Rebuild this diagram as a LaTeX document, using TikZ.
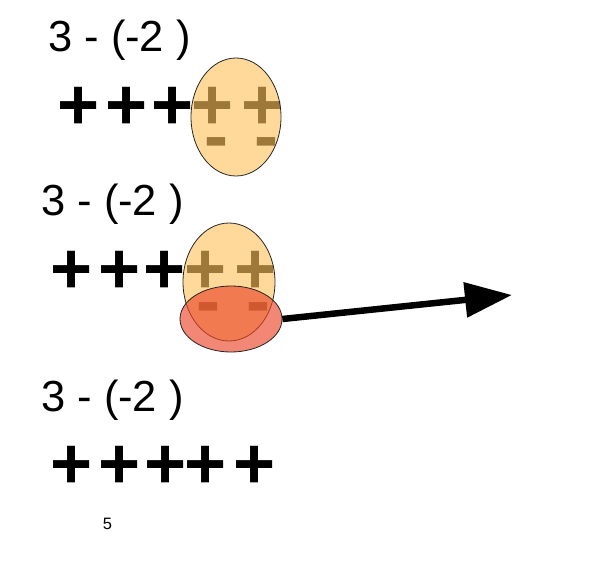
\documentclass[tikz,border=0pt]{standalone}
\usepackage{fontspec}
\setmainfont{Liberation Sans}
\usetikzlibrary{arrows.meta,shapes.geometric}
\definecolor{peach}{RGB}{255,194,92}
\definecolor{redc}{RGB}{235,72,42}
\begin{document}
\begin{tikzpicture}[x=1pt,y=-1pt,
  expr/.style={anchor=base west,inner sep=0pt,font=\fontsize{43.5}{43.5}\selectfont},
  pl/.style={anchor=base,inner sep=0pt,font=\fontsize{72}{72}\selectfont\bfseries},
  mn/.style={anchor=base,inner sep=0pt,font=\fontsize{72}{72}\selectfont\bfseries},
  egg/.style={ellipse,draw=black!85,line width=0.8pt,fill=peach,fill opacity=0.62,inner sep=0pt},
  redegg/.style={ellipse,draw=black!85,line width=0.8pt,fill=redc,fill opacity=0.65,inner sep=0pt}]
\useasboundingbox (0,0) rectangle (602,586);
\fill[white] (0,0) rectangle (602,586);
% row 1
\node[expr] (e1) at (48,52) {3 - (-2 )};
\node[pl] (p11) at (79,129) {+};
\node[pl] (p12) at (126.5,129) {+};
\node[pl] (p13) at (173,129) {+};
\node[pl] (p14) at (212.5,129) {+};
\node[pl] (p15) at (262.5,129) {+};
\node[mn] (m11) at (216,160) {-};
\node[mn] (m12) at (266.5,160) {-};
\node[egg,minimum width=90pt,minimum height=118pt] (g1) at (236,117) {};
% row 2
\node[expr] (e2) at (41,215) {3 - (-2 )};
\node[pl] (p21) at (71.5,293) {+};
\node[pl] (p22) at (119.5,293) {+};
\node[pl] (p23) at (165,293) {+};
\node[pl] (p24) at (206,293) {+};
\node[pl] (p25) at (255.5,293) {+};
\node[mn] (m21) at (208.5,325) {-};
\node[mn] (m22) at (258.5,325) {-};
\node[egg,minimum width=92pt,minimum height=118pt] (g2) at (229,282) {};
\node[redegg,minimum width=102pt,minimum height=66pt] (r2) at (231,319) {};
\coordinate (tip) at (512,295);
\draw[line width=6.5pt,-{Triangle[length=47pt,width=34pt]}] (r2.east) -- (tip);
% row 3
\node[expr] (e3) at (41,411) {3 - (-2 )};
\node[pl] (p31) at (71.5,488) {+};
\node[pl] (p32) at (119.5,488) {+};
\node[pl] (p33) at (165.5,488) {+};
\node[pl] (p34) at (206,488) {+};
\node[pl] (p35) at (255,488) {+};
\node[anchor=base,inner sep=0pt,font=\fontsize{16.5}{16.5}\selectfont] (five) at (107.5,529) {5};
\end{tikzpicture}
\end{document}
